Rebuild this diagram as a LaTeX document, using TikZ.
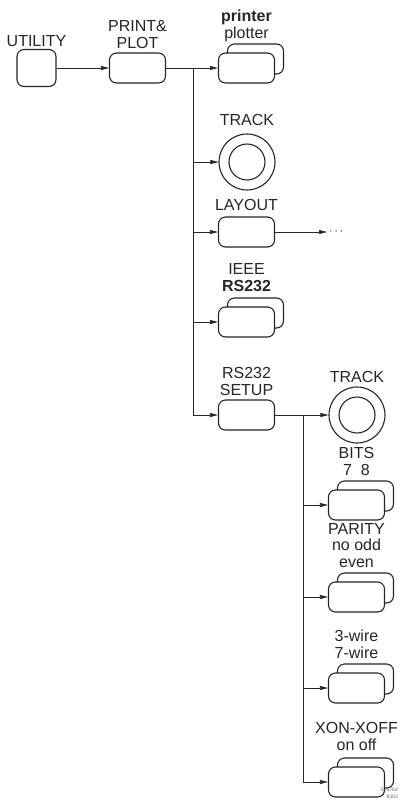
\documentclass[tikz,border=0pt]{standalone}
\usepackage{fontspec}
\setmainfont{Liberation Sans}
\usetikzlibrary{positioning,arrows.meta,shadows}

\begin{document}
\begin{tikzpicture}[x=1pt,y=-1pt,
    every node/.style={text=black!85},
    key/.style={draw=black!85, line width=1.1pt, rounded corners=7pt, fill=white,
        minimum width=56pt, minimum height=30pt, inner sep=0pt},
    stackkey/.style={key, copy shadow={shadow xshift=9pt, shadow yshift=9pt,
        draw=black!85, fill=white, line width=1.1pt}},
    ring/.style={draw=black!85, line width=1.1pt, circle, minimum size=56pt, inner sep=0pt,
        path picture={\draw[black!85, line width=1.1pt] (path picture bounding box.center) circle (18pt);}},
    caption/.style={font=\fontsize{16}{16.5}\selectfont, align=center, inner sep=0pt, text depth=0pt},
    conn/.style={draw=black!85, line width=0.7pt},
    link/.style={conn, -{Triangle[length=8pt,width=4pt]}}]
    \path[use as bounding box, fill=white] (0,0) rectangle (406,807);

    % First level
    \node[key, minimum width=39pt, minimum height=37pt] (util) at (36.5,68) {};
    \node[caption, above=2pt of util] (utilT) {UTILITY};
    \node[key] (print) at (137.5,68) {};
    \node[caption, above=4pt of print] (printT) {PRINT\&\\PLOT};

    % Print & plot menu
    \node[stackkey] (printer) at (246.5,68) {};
    \node[caption, above=14pt of printer] (printerT) {\textbf{printer}\\plotter};
    \node[ring] (track) at (247,162) {};
    \node[caption, above=8pt of track] (trackT) {TRACK};
    \node[key] (layout) at (246.5,232) {};
    \node[caption, above=6pt of layout] (layoutT) {LAYOUT};
    \node[stackkey] (ieee) at (246.5,322) {};
    \node[caption, above=15pt of ieee] (ieeeT) {IEEE\\\textbf{RS232}};
    \node[key] (setup) at (246.5,415) {};
    \node[caption, above=4pt of setup] (setupT) {RS232\\SETUP};

    % RS232 setup menu
    \node[ring] (track2) at (357,415) {};
    \node[caption, above=4pt of track2] (track2T) {TRACK};
    \node[stackkey] (bits) at (356.5,505) {};
    \node[caption, above=14pt of bits] (bitsT) {BITS\\7\ \ 8};
    \node[stackkey] (parity) at (356.5,597) {};
    \node[caption, above=14pt of parity] (parityT) {PARITY\\no odd\\even};
    \node[stackkey] (wire) at (356.5,688) {};
    \node[caption, above=14pt of wire] (wireT) {3-wire\\7-wire};
    \node[stackkey] (xon) at (356.5,782) {};
    \node[caption, above=16pt of xon] (xonT) {XON-XOFF\\on off};

    % Connectors
    \coordinate (t1) at (193,68);
    \coordinate (t2) at (303,415);
    \coordinate (more) at (327,232);
    \draw[link] (util) -- (print);
    \draw[conn] (print) -- (t1);
    \draw[link] (t1) -- (printer);
    \draw[link] (t1) |- (setup);
    \draw[link] (t1 |- track) -- (track);
    \draw[link] (t1 |- layout) -- (layout);
    \draw[link] (t1 |- ieee) -- (ieee);
    \draw[link] (layout) -- (more);
    \node[anchor=west, font=\fontsize{12}{12}\selectfont, inner sep=2pt] (moreT) at (more) {$\cdots$};
    \draw[conn] (setup) -- (t2);
    \draw[link] (t2) -- (track2);
    \draw[link] (t2) |- (xon);
    \draw[link] (t2 |- bits) -- (bits);
    \draw[link] (t2 |- parity) -- (parity);
    \draw[link] (t2 |- wire) -- (wire);

    \node[anchor=south east, align=right, inner sep=0pt, text=black!60,
        font=\fontsize{5}{7}\selectfont] (code) at (398,799) {ST6762\\9303};
\end{tikzpicture}
\end{document}
